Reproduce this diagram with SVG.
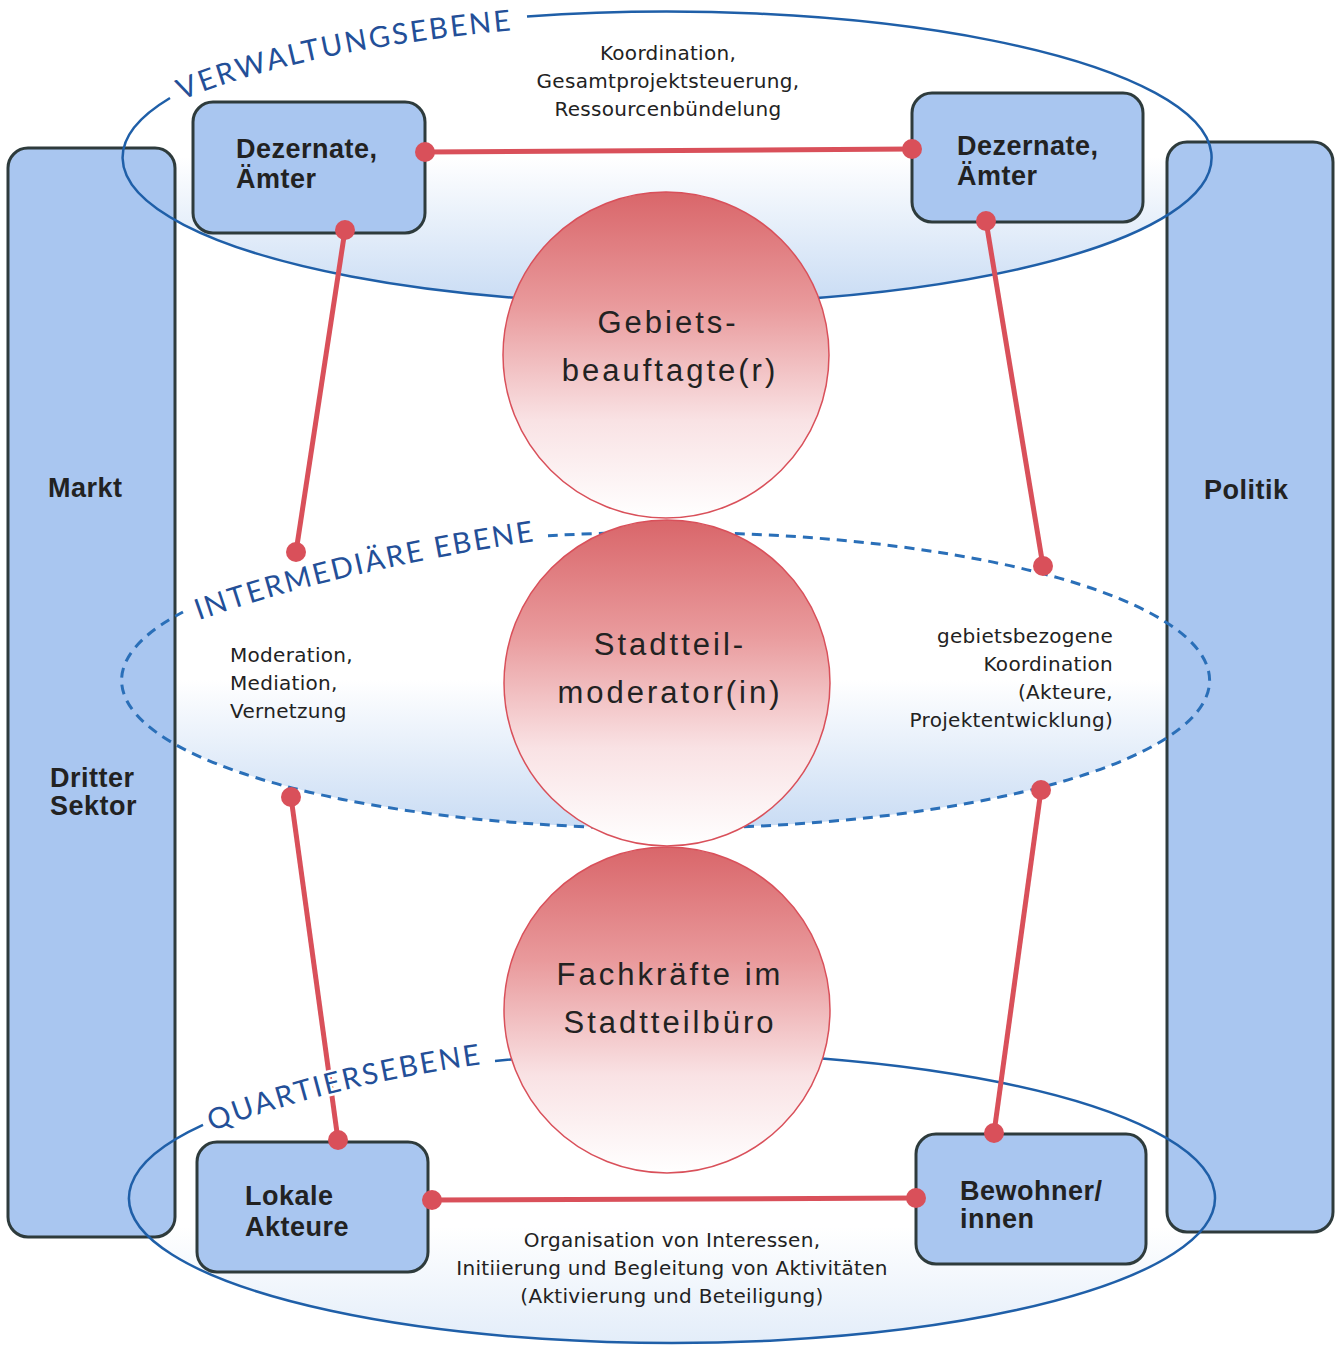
<svg xmlns="http://www.w3.org/2000/svg" width="1340" height="1345" viewBox="0 0 1340 1345">
<style>
.bar{fill:#a9c6f0;stroke:#2e3b3c;stroke-width:3}
.box{fill:#a9c6f0;stroke:#2e3b3c;stroke-width:3}
.lvl{fill:none;stroke:#1f5fa8;stroke-width:2.5}
.lvld{fill:none;stroke:#2a6fb8;stroke-width:3;stroke-dasharray:10 7}
.lvltxt{font-family:Lato,"Liberation Sans",sans-serif;font-size:29px;fill:#234f98;stroke:#ffffff;stroke-width:5px;stroke-linejoin:round;paint-order:stroke}
.bt{font-family:"Liberation Sans",Arial,sans-serif;font-weight:bold;font-size:27px;letter-spacing:0.5px;fill:#222}
.ct{font-family:"Liberation Sans",Arial,sans-serif;font-size:31px;letter-spacing:3px;fill:#222;text-anchor:middle}
.lb{font-family:"DejaVu Sans","Liberation Sans",sans-serif;font-size:20px;letter-spacing:0.3px;fill:#222}
.con{stroke:#d9505a;stroke-width:5;fill:none}
.dot{fill:#d9505a}
.circ{fill:url(#cg);stroke:#d9505a;stroke-width:1.5}
</style>
<defs>
<linearGradient id="eg" x1="0" y1="0" x2="0" y2="1">
<stop offset="0" stop-color="#ffffff"/>
<stop offset="0.5" stop-color="#ffffff"/>
<stop offset="1" stop-color="#c9dcf4"/>
</linearGradient>
<linearGradient id="eg2" x1="0" y1="0" x2="0" y2="1">
<stop offset="0" stop-color="#ffffff"/>
<stop offset="0.6" stop-color="#ffffff"/>
<stop offset="1" stop-color="#e3edf9"/>
</linearGradient>
<linearGradient id="cg" x1="0" y1="0" x2="0" y2="1">
<stop offset="0" stop-color="#d9666a"/>
<stop offset="0.35" stop-color="#e99a9c"/>
<stop offset="0.7" stop-color="#f9e2e4"/>
<stop offset="1" stop-color="#ffffff"/>
</linearGradient>
<path id="tp1" d="M 180,101 Q 300,50 515,30"/>
<path id="tp2" d="M 197,621 Q 340,570 542,540"/>
<path id="tp3" d="M 210,1132 Q 330,1085 490,1063"/>
</defs>
<rect width="1340" height="1345" fill="#ffffff"/>

<g id="level-fills">
<ellipse cx="666.5" cy="157" rx="544.5" ry="146" fill="url(#eg)"/>
<ellipse cx="666" cy="680" rx="544" ry="148" fill="url(#eg)"/>
<ellipse cx="672" cy="1198" rx="543" ry="145" fill="url(#eg2)"/>
</g>

<g id="markt-bar">
<rect class="bar" x="8" y="148" width="167" height="1089" rx="20"/>
<text class="bt" x="48" y="497">Markt</text>
<text class="bt" x="50" y="787">Dritter</text>
<text class="bt" x="50" y="815">Sektor</text>
</g>
<g id="politik-bar">
<rect class="bar" x="1167" y="142" width="166" height="1090" rx="20"/>
<text class="bt" x="1204" y="499">Politik</text>
</g>

<g id="level-lines">
<path class="lvl" d="M 527,16.5 A 544.5 146 0 1 1 170,98"/>
<path class="lvld" d="M 548,535.8 A 544 148 0 1 1 183,612"/>
<path class="lvl" d="M 495,1060.9 A 543 145 0 1 1 203,1124.9"/>
</g>

<g id="labels">
<text class="lb" text-anchor="middle" x="668" y="60">Koordination,</text>
<text class="lb" text-anchor="middle" x="668" y="88">Gesamtprojektsteuerung,</text>
<text class="lb" text-anchor="middle" x="668" y="116">Ressourcenbündelung</text>
<text class="lb" x="230" y="662">Moderation,</text>
<text class="lb" x="230" y="690">Mediation,</text>
<text class="lb" x="230" y="718">Vernetzung</text>
<text class="lb" text-anchor="end" x="1113" y="643">gebietsbezogene</text>
<text class="lb" text-anchor="end" x="1113" y="671">Koordination</text>
<text class="lb" text-anchor="end" x="1113" y="699">(Akteure,</text>
<text class="lb" text-anchor="end" x="1113" y="727">Projektentwicklung)</text>
<text class="lb" text-anchor="middle" x="672" y="1247">Organisation von Interessen,</text>
<text class="lb" text-anchor="middle" x="672" y="1275">Initiierung und Begleitung von Aktivitäten</text>
<text class="lb" text-anchor="middle" x="672" y="1303">(Aktivierung und Beteiligung)</text>
</g>

<g id="box-dezernate-left">
<rect class="box" x="193" y="102" width="232" height="131" rx="20"/>
<text class="bt" x="236" y="158">Dezernate,</text>
<text class="bt" x="236" y="188">Ämter</text>
</g>
<g id="box-dezernate-right">
<rect class="box" x="912" y="93" width="231" height="129" rx="20"/>
<text class="bt" x="957" y="155">Dezernate,</text>
<text class="bt" x="957" y="185">Ämter</text>
</g>
<g id="box-lokale-akteure">
<rect class="box" x="197" y="1142" width="231" height="130" rx="20"/>
<text class="bt" x="245" y="1205">Lokale</text>
<text class="bt" x="245" y="1236">Akteure</text>
</g>
<g id="box-bewohner">
<rect class="box" x="916" y="1134" width="230" height="130" rx="20"/>
<text class="bt" x="960" y="1200">Bewohner/</text>
<text class="bt" x="960" y="1228">innen</text>
</g>

<g id="circle-gebietsbeauftragte">
<circle class="circ" cx="666" cy="355" r="163"/>
<text class="ct" x="668" y="333">Gebiets-</text>
<text class="ct" x="670" y="381">beauftagte(r)</text>
</g>
<g id="circle-stadtteilmoderator">
<circle class="circ" cx="667" cy="683" r="163"/>
<text class="ct" x="670" y="655">Stadtteil-</text>
<text class="ct" x="670" y="703">moderator(in)</text>
</g>
<g id="circle-fachkraefte">
<circle class="circ" cx="667" cy="1010" r="163"/>
<text class="ct" x="670" y="985">Fachkräfte im</text>
<text class="ct" x="670" y="1033">Stadtteilbüro</text>
</g>

<g id="connectors">
<line class="con" x1="425" y1="152" x2="912" y2="149"/>
<line class="con" x1="345" y1="230" x2="296" y2="552"/>
<line class="con" x1="986" y1="221" x2="1043" y2="566"/>
<line class="con" x1="291" y1="797" x2="338" y2="1140"/>
<line class="con" x1="1041" y1="790" x2="994" y2="1133"/>
<line class="con" x1="432" y1="1200" x2="916" y2="1198"/>
<circle class="dot" cx="425" cy="152" r="10"/>
<circle class="dot" cx="912" cy="149" r="10"/>
<circle class="dot" cx="345" cy="230" r="10"/>
<circle class="dot" cx="296" cy="552" r="10"/>
<circle class="dot" cx="986" cy="221" r="10"/>
<circle class="dot" cx="1043" cy="566" r="10"/>
<circle class="dot" cx="291" cy="797" r="10"/>
<circle class="dot" cx="338" cy="1140" r="10"/>
<circle class="dot" cx="1041" cy="790" r="10"/>
<circle class="dot" cx="994" cy="1133" r="10"/>
<circle class="dot" cx="432" cy="1200" r="10"/>
<circle class="dot" cx="916" cy="1198" r="10"/>
</g>

<g id="level-labels">
<text class="lvltxt"><textPath href="#tp1" startOffset="2" textLength="338" lengthAdjust="spacing">VERWALTUNGSEBENE</textPath></text>
<text class="lvltxt"><textPath href="#tp2" startOffset="2" textLength="345" lengthAdjust="spacing">INTERMEDIÄRE EBENE</textPath></text>
<text class="lvltxt"><textPath href="#tp3" startOffset="2" textLength="278" lengthAdjust="spacing">QUARTIERSEBENE</textPath></text>
</g>
</svg>
